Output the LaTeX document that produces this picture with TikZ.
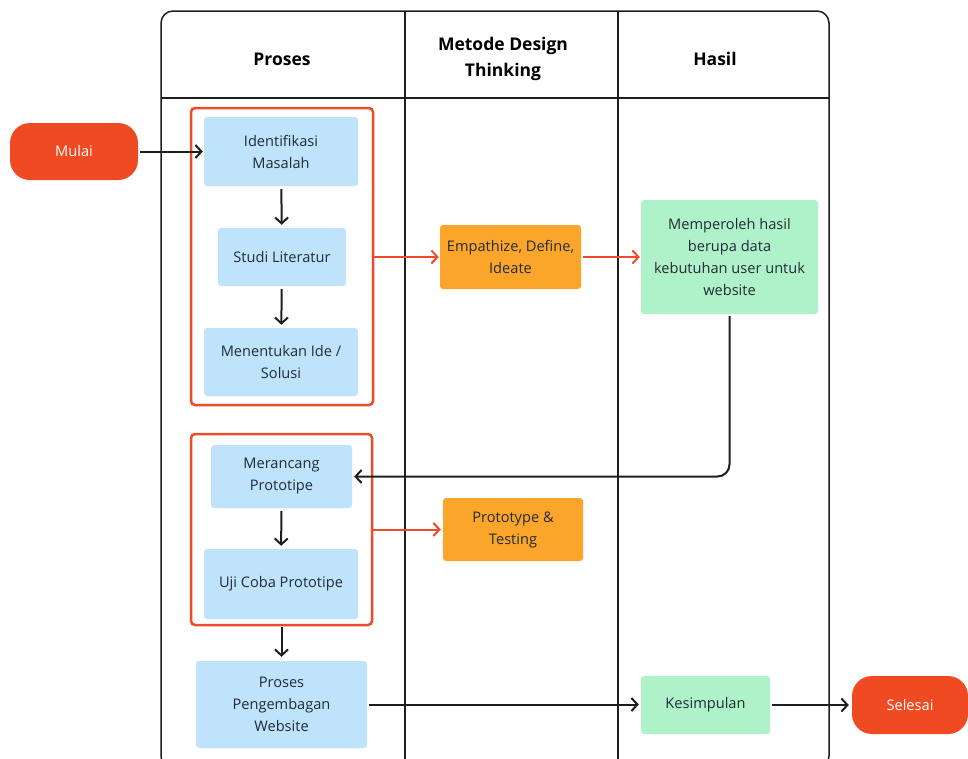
\documentclass[tikz,border=0pt]{standalone}
\usepackage{fontspec}
\setmainfont{Open Sans}
\usetikzlibrary{arrows.meta}
\definecolor{startred}{HTML}{F04A22}
\definecolor{grpred}{HTML}{EE4B2B}
\definecolor{lblue}{HTML}{BEE3FA}
\definecolor{orng}{HTML}{FBA52A}
\definecolor{lgreen}{HTML}{AFF1C8}
\definecolor{txt}{HTML}{222B38}
\definecolor{linec}{HTML}{1E1E1E}
\tikzset{
  box/.style={rounded corners=3pt, align=center, text=txt, inner sep=0pt,
    font=\fontsize{14.6}{22}\selectfont},
  bluebox/.style={box, fill=lblue},
  orangebox/.style={box, fill=orng},
  greenbox/.style={box, fill=lgreen},
  pill/.style={rounded corners=20pt, fill=startred, text=white, align=center,
    font=\fontsize{14.6}{22}\selectfont, inner sep=0pt},
  grp/.style={draw=grpred, line width=2.5pt, rounded corners=4pt, inner sep=0pt},
  head/.style={align=center, font=\fontsize{17.5}{26}\selectfont\bfseries, text=black},
  arr/.style={draw=linec, line width=2pt, -{Straight Barb[length=6pt,width=13pt,line width=2pt]}},
  rarr/.style={draw=grpred, line width=2pt, -{Straight Barb[length=6pt,width=13pt,line width=2pt]}},
}
\begin{document}
\begin{tikzpicture}[x=1pt,y=-1pt]
\useasboundingbox (0,0) rectangle (968,758);
\clip (0,0) rectangle (968,758);
% table
\draw[line width=1.5pt, draw=linec, rounded corners=12pt] (161,11) rectangle (829,768);
\draw[line width=1.5pt, draw=linec] (405,11) -- (405,768);
\draw[line width=1.5pt, draw=linec] (618,11) -- (618,768);
\draw[line width=1.5pt, draw=linec] (161,98) -- (829,98);
\node[head] (h1) at (282,59) {Proses};
\node[head] (h2) at (503,59) {Metode Design\\Thinking};
\node[head] (h3) at (715,59) {Hasil};
% groups
\node[grp, minimum width=182pt, minimum height=297pt] (g1) at (282,256.5) {};
\node[grp, minimum width=181pt, minimum height=191pt] (g2) at (281.5,529.5) {};
% nodes
\node[pill, minimum width=128pt, minimum height=57pt] (mulai) at (74,151.5) {Mulai};
\node[bluebox, minimum width=154pt, minimum height=69pt] (idm) at (281,151.5) {Identifikasi\\Masalah};
\node[bluebox, minimum width=128pt, minimum height=58pt] (studi) at (282,257) {Studi Literatur};
\node[bluebox, minimum width=154pt, minimum height=68pt] (ide) at (281,362) {Menentukan Ide /\\Solusi};
\node[orangebox, minimum width=141pt, minimum height=64pt] (emp) at (510.5,257) {Empathize, Define,\\Ideate};
\node[greenbox, minimum width=177pt, minimum height=114pt] (hasil) at (729.5,257) {Memperoleh hasil\\berupa data\\kebutuhan user untuk\\website};
\node[bluebox, minimum width=141pt, minimum height=63pt] (mer) at (281.5,476.5) {Merancang\\Prototipe};
\node[bluebox, minimum width=154pt, minimum height=70pt] (uji) at (281,584) {Uji Coba Prototipe};
\node[orangebox, minimum width=140pt, minimum height=63pt] (proto) at (513,529.5) {Prototype \&\\Testing};
\node[bluebox, minimum width=171pt, minimum height=87pt] (peng) at (281.5,704.5) {Proses\\Pengembagan\\Website};
\node[greenbox, minimum width=129pt, minimum height=58pt] (kes) at (705.5,705) {Kesimpulan};
\node[pill, minimum width=116pt, minimum height=58pt] (sel) at (910,705) {Selesai};
% connectors
\draw[arr, shorten <=2pt, shorten >=1pt] (mulai.east) -- (idm.west);
\draw[arr, shorten <=3pt, shorten >=3pt] (idm) -- (studi);
\draw[arr, shorten <=3pt, shorten >=3pt] (studi) -- (ide);
\draw[rarr, shorten >=1pt] (g1.east |- emp.west) -- (emp.west);
\draw[rarr, shorten <=2pt, shorten >=1pt] (emp.east) -- (hasil.west);
\draw[arr, rounded corners=12pt, shorten <=2pt, shorten >=2pt] (hasil.south) |- (mer.east);
\draw[arr, shorten <=3pt, shorten >=3pt] (mer) -- (uji);
\draw[rarr, shorten >=2pt] (g2.east |- proto.west) -- (proto.west);
\draw[arr, shorten <=1pt, shorten >=4pt] (g2.south) -- (peng.north);
\draw[arr, shorten <=2pt, shorten >=2pt] (peng.east) -- (kes.west |- peng.east);
\draw[arr, shorten <=2pt, shorten >=3pt] (kes.east) -- (sel.west);
\end{tikzpicture}
\end{document}
